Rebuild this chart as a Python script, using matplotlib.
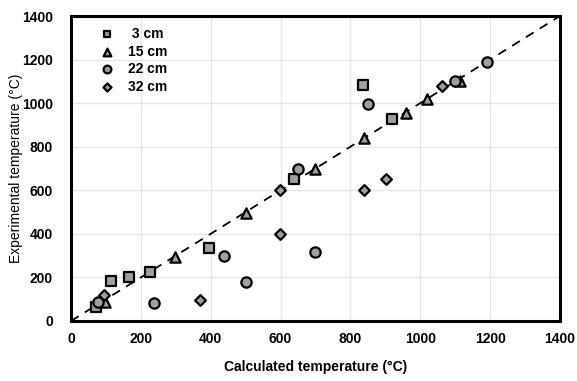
import matplotlib
matplotlib.use("Agg")
from matplotlib import pyplot as plt

plt.rcParams["font.family"] = ["Liberation Sans", "DejaVu Sans"]
plt.rcParams["font.weight"] = "bold"

# 3 cm (squares)
x_3 = [73, 114, 166, 226, 395, 638, 837, 918]
y_3 = [66, 182, 203, 225, 336, 652, 1083, 925]
# 15 cm (triangles)
x_15 = [97, 298, 500, 699, 839, 959, 1018, 1114]
y_15 = [87, 295, 495, 697, 838, 956, 1017, 1101]
# 22 cm (circles)
x_22 = [78, 238, 438, 500, 650, 699, 849, 1099, 1192]
y_22 = [85, 82, 298, 179, 699, 318, 996, 1101, 1189]
# 32 cm (diamonds)
x_32 = [95, 369, 598, 598, 839, 902, 1061]
y_32 = [119, 96, 399, 601, 601, 650, 1080]

ticks = [0, 200, 400, 600, 800, 1000, 1200, 1400]

fig = plt.figure(figsize=(5.77, 3.81), dpi=100)
ax = fig.add_axes([0.123, 0.1575, 0.8475, 0.8005])

ax.plot([0, 1400], [0, 1400], color="black", linestyle=(0, (5, 4)), linewidth=1.3, zorder=2)

style = dict(facecolor="#a0a0a0", edgecolor="black", linewidths=1.6, zorder=3)
ax.scatter(x_3, y_3, marker="s", s=42, label=" 3 cm", **style)
ax.scatter(x_15, y_15, marker="^", s=55, label="15 cm", **style)
ax.scatter(x_22, y_22, marker="o", s=55, label="22 cm", **style)
ax.scatter(x_32, y_32, marker="D", s=30, label="32 cm", **style)

ax.set_xlim(0, 1400)
ax.set_ylim(0, 1400)
ax.set_xticks(ticks)
ax.set_yticks(ticks)
ax.tick_params(length=0, labelsize=10)
ax.tick_params(axis="x", pad=8)
ax.tick_params(axis="y", pad=13)
ax.grid(True, color="#e6e6e6", linewidth=1)
ax.set_axisbelow(True)
for s in ax.spines.values():
    s.set_linewidth(2.2)

ax.set_xlabel("Calculated temperature (°C)", fontsize=10, fontweight="bold", labelpad=10)
ax.set_ylabel("Experimental temperature (°C)", fontsize=10, fontweight="normal")
ax.yaxis.set_label_coords(-0.098, 0.5)

ax.legend(loc="upper left", bbox_to_anchor=(0.022, 1.0), frameon=False, fontsize=10,
          handletextpad=0.5, labelspacing=0.25, borderaxespad=0.4, markerscale=0.75)

plt.savefig("out.png", dpi=100)
